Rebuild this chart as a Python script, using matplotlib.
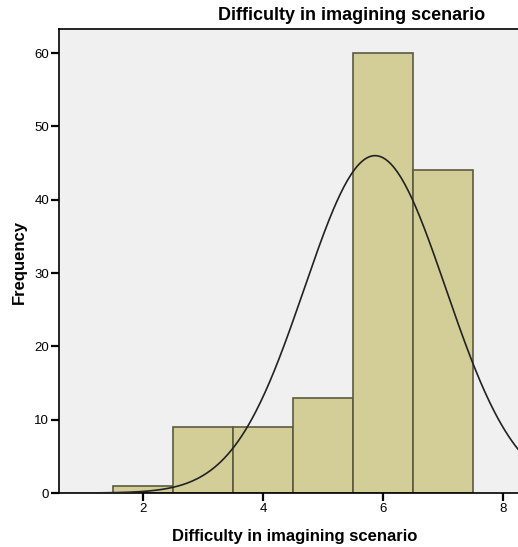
import numpy as np
from matplotlib import pyplot as plt

plt.rcParams['font.family'] = ['Liberation Sans', 'DejaVu Sans']

# histogram bins (left edges) and counts
bin_left = [1.5, 2.5, 3.5, 4.5, 5.5, 6.5]
counts = [1, 9, 9, 13, 60, 44]
bin_width = 1.0
bin_mid = [b + bin_width / 2 for b in bin_left]

x_ticks = [2, 4, 6, 8]
y_ticks = [0, 10, 20, 30, 40, 50, 60]

# fitted normal curve from the histogram values
n = sum(counts)
mean = sum(m * c for m, c in zip(bin_mid, counts)) / n
sd = np.sqrt(sum(c * (m - mean) ** 2 for m, c in zip(bin_mid, counts)) / (n - 1))
xs = np.linspace(0.6, 8.3, 400)
ys = n * bin_width * np.exp(-0.5 * ((xs - mean) / sd) ** 2) / (sd * np.sqrt(2 * np.pi))

fig = plt.figure(figsize=(5.18, 5.47), dpi=100)
W, H = 518, 547
ax = fig.add_axes([59 / W, (H - 493) / H, (518 - 59) / W, (493 - 29) / H])
ax.set_facecolor('#f0f0f0')

ax.bar(bin_left, counts, width=bin_width, align='edge', color='#d3ce98',
       edgecolor='#5c5a40', linewidth=1.2, zorder=2)
ax.plot(xs, ys, color='#222222', linewidth=1.2, zorder=3)

ax.set_xlim(0.6, 8.25)
ax.set_ylim(0, 63.3)
ax.set_xticks(x_ticks)
ax.set_yticks(y_ticks)
ax.tick_params(axis='both', direction='out', length=6, width=1.6, labelsize=9.5,
               colors='black', pad=1)
for s in ['left', 'bottom', 'top']:
    ax.spines[s].set_linewidth(1.2)
    ax.spines[s].set_color('black')
ax.spines['right'].set_visible(False)

fig.text(352 / W, 1 - 15 / H, 'Difficulty in imagining scenario', ha='center', va='center',
         fontsize=13, fontweight='bold')
fig.text(295 / W, 1 - 536 / H, 'Difficulty in imagining scenario', ha='center', va='center',
         fontsize=12, fontweight='bold')
fig.text(19 / W, 1 - 262 / H, 'Frequency', ha='center', va='center', rotation=90,
         fontsize=12, fontweight='bold')

fig.savefig('out.png', dpi=100)
